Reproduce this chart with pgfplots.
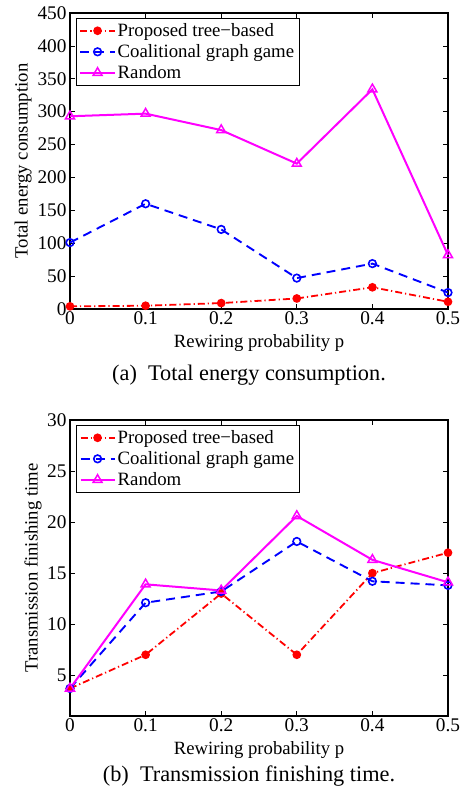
\documentclass[border=0pt]{standalone}
\usepackage{fontspec}
\setmainfont{Liberation Serif}
\usepackage{pgfplots}
\pgfplotsset{compat=1.18}
\definecolor{mred}{rgb}{1,0,0}
\definecolor{mblue}{rgb}{0,0,1}
\definecolor{mmag}{rgb}{1,0,1}
\pgfplotsset{
  myaxis/.style={
    scale only axis, width=378pt, height=296pt,
    xmin=0, xmax=0.5,
    xtick={0,0.1,0.2,0.3,0.4,0.5},
    xticklabels={0,0.1,0.2,0.3,0.4,0.5},
    tick align=inside, tick pos=both,
    major tick length=5pt,
    axis line style={line width=1.3pt},
    every tick/.style={line width=0.7pt, black},
    /pgf/number format/assume math mode=true,
    tick label style={font=\fontsize{19.3}{21}\selectfont},
    xticklabel style={yshift=1pt},
    xlabel={Rewiring probability p},
    every axis x label/.style={at={(axis description cs:0.5,0)}, anchor=center, yshift=-34pt, font=\fontsize{18.7}{20}\selectfont},
    legend style={font=\fontsize{18.8}{21.5}\selectfont, at={(0,1)}, anchor=north west,
      xshift=6pt, yshift=-5pt, draw=black, line width=1pt, inner sep=3pt,
      row sep=2.5pt, cells={anchor=west}},
    legend image code/.code={
      \draw[mark repeat=2,mark phase=2,#1] plot coordinates {(0cm,0cm) (0.6cm,0cm) (1.2cm,0cm)};},
    clip=false,
  },
  s1/.style={mred, line width=1.8pt, dash pattern=on 7pt off 3pt on 1.2pt off 3pt, mark=*, mark size=3.4pt, mark options={solid, fill=mred}},
  s2/.style={mblue, line width=1.9pt, dash pattern=on 9pt off 6pt, mark=o, mark size=3.8pt, mark options={solid, line width=1.6pt}},
  s3/.style={mmag, line width=2pt, mark=triangle, mark size=5.2pt, mark options={solid, line width=1.5pt}},
}
\begin{document}
\begin{tikzpicture}
\useasboundingbox (0,0) rectangle (464pt,-798pt);
\begin{axis}[myaxis, at={(70pt,-309pt)}, anchor=south west,
  ymin=0, ymax=450, ytick={0,50,...,450},
  ylabel={Total energy consumption},
  every axis y label/.style={at={(axis description cs:-0.124,0.5)}, rotate=90, anchor=center, font=\fontsize{18.7}{20}\selectfont},
]
\addplot[s1] coordinates {(0,4) (0.1,5) (0.2,9) (0.3,16) (0.4,33) (0.5,11)};
\addlegendentry{Proposed tree\textminus based}
\addplot[s2] coordinates {(0,101) (0.1,160) (0.2,121) (0.3,47) (0.4,69) (0.5,25)};
\addlegendentry{Coalitional graph game}
\addplot[s3] coordinates {(0,293) (0.1,297) (0.2,272) (0.3,221) (0.4,334) (0.5,82)};
\addlegendentry{Random}
\end{axis}
\node[font=\fontsize{22.3}{24}\selectfont] at (249pt,-375pt) {(a)\ \ Total energy consumption.};
\begin{axis}[myaxis, at={(70pt,-716pt)}, anchor=south west,
  ymin=1, ymax=30, ytick={5,10,...,30},
  ylabel={Transmission finishing time},
  every axis y label/.style={at={(axis description cs:-0.098,0.5)}, rotate=90, anchor=center, font=\fontsize{18.7}{20}\selectfont},
]
\addplot[s1] coordinates {(0,3.7) (0.1,7) (0.2,13) (0.3,7) (0.4,15) (0.5,17)};
\addlegendentry{Proposed tree\textminus based}
\addplot[s2] coordinates {(0,3.7) (0.1,12.1) (0.2,13.2) (0.3,18.1) (0.4,14.2) (0.5,13.8)};
\addlegendentry{Coalitional graph game}
\addplot[s3] coordinates {(0,3.7) (0.1,13.9) (0.2,13.3) (0.3,20.6) (0.4,16.3) (0.5,14.1)};
\addlegendentry{Random}
\end{axis}
\node[font=\fontsize{22.3}{24}\selectfont] at (249pt,-776pt) {(b)\ \ Transmission finishing time.};
\end{tikzpicture}
\end{document}
